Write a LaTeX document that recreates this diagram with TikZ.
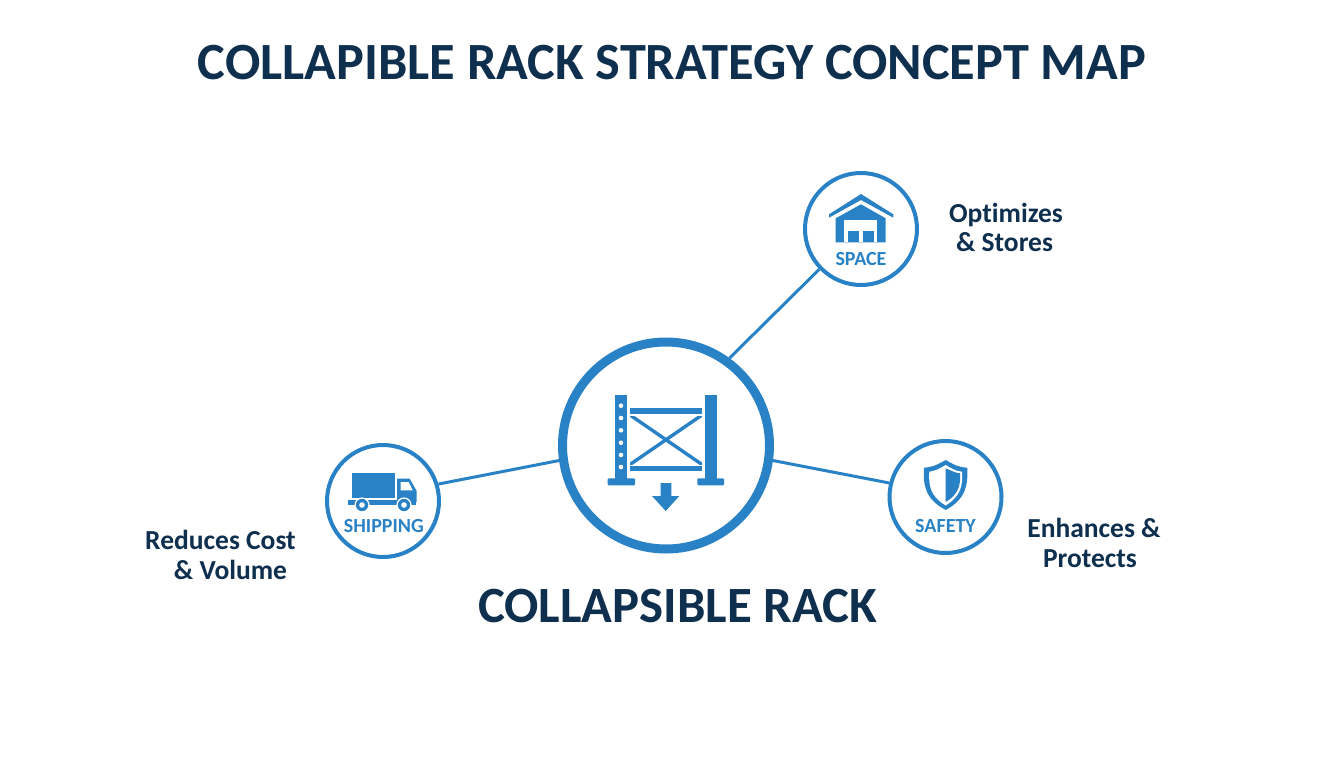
\documentclass[tikz,border=0pt]{standalone}
\usepackage{fontspec}
\setmainfont{Carlito}[Ligatures=NoCommon]
\definecolor{navy}{HTML}{0F2F4F}
\definecolor{rackblue}{HTML}{2A82C6}
\tikzset{
  ring/.style={circle,draw=rackblue,fill=white,inner sep=0pt,line width=4pt,minimum size=#1},
  link/.style={draw=rackblue,line width=3pt},
  ttl/.style={anchor=base,inner sep=0pt,text=navy,font=\fontsize{52.3}{58}\selectfont\bfseries},
  hubttl/.style={anchor=base,inner sep=0pt,text=navy,font=\fontsize{50.8}{58}\selectfont\bfseries},
  lbl/.style={anchor=base,inner sep=0pt,text=navy,font=\fontsize{27.5}{30}\selectfont\bfseries},
  tag/.style={anchor=base,inner sep=0pt,text=rackblue,font=\fontsize{20}{22}\selectfont\bfseries},
  ink/.style={fill=rackblue,draw=none},
  paper/.style={fill=white,draw=none}
}
\begin{document}
\begin{tikzpicture}[x=1pt,y=-1pt]
\useasboundingbox (0,0) rectangle (1344,768);
\fill[white] (0,0) rectangle (1344,768);
\node[ttl] (title) at (672,79) {COLLAPIBLE RACK STRATEGY CONCEPT MAP};
% circles
\node[ring=207pt,line width=9pt] (hub) at (666,445.5) {};
\node[ring=112pt] (space) at (861,229) {};
\node[ring=112pt] (ship) at (383,501) {};
\node[ring=112pt] (safe) at (945.5,497) {};
% connectors
\draw[link] (hub.54.5) -- (space.224);
\draw[link] (hub.188) -- (ship.17);
\draw[link] (hub.-8) -- (safe.166);
% rack icon
\fill[ink] (615.3,395) rectangle (627.3,479);
\fill[ink,rounded corners=1pt] (607.7,478.3) rectangle (635,485.3);
\foreach \yy in {405.7,418,430.3,442.7,455,467} \fill[paper] (621,\yy) circle (2.3);
\fill[ink] (705,395) rectangle (716.7,479);
\fill[ink,rounded corners=1pt] (697.3,478.3) rectangle (724,485.3);
\fill[ink] (630,408.3) rectangle (702,413.7);
\fill[ink] (630,465.7) rectangle (702,471.3);
\begin{scope}
\clip (630,416) rectangle (702,464);
\draw[rackblue,line width=3.4pt] (630,415) -- (702,464.5);
\draw[rackblue,line width=3.4pt] (702,415) -- (630,464.5);
\end{scope}
\fill[ink] (660.7,483) -- (671.3,483) -- (671.3,496) -- (679.3,496) -- (665.7,511) -- (652,496) -- (660.7,496) -- cycle;
% warehouse icon
\fill[ink] (861,194) -- (893.3,214.3) -- (893.3,217.7) -- (861,200) -- (829,217.7) -- (829,214.3) -- cycle;
\fill[ink] (861,204.3) -- (885.7,218.3) -- (885.7,242.3) -- (835.7,242.3) -- (835.7,218.3) -- cycle;
\fill[paper] (844,220) rectangle (877.3,242.3);
\fill[ink] (847.7,231) rectangle (859.3,242.3);
\fill[ink] (863,231) rectangle (874.3,242.3);
\node[tag] (spacetag) at (861,265.5) {SPACE};
% truck icon
\fill[ink] (351.7,472.7) rectangle (394.7,497.7);
\fill[ink] (348,499.5) rectangle (416,505);
\fill[ink] (397,478.7) -- (409.7,478.7) -- (416.7,491) -- (416.7,502) -- (397,502) -- cycle;
\fill[paper] (400.7,482) -- (408.7,482) -- (412.7,490.3) -- (400.7,490.3) -- cycle;
\foreach \xx in {362,404} {
  \fill[paper] (\xx,505) circle (7.6);
  \fill[ink] (\xx,505) circle (6.2);
  \fill[paper] (\xx,505) circle (2.8);
}
\node[tag] (shiptag) at (383.8,532.5) {SHIPPING};
% shield icon
\fill[ink] (945.7,460) .. controls (935,466) and (932,467) .. (924,467.7) .. controls (923,485) and (925,499) .. (945.7,510) .. controls (966,499) and (968,485) .. (967.3,467.7) .. controls (959,467) and (956,466) .. (945.7,460) -- cycle;
\fill[paper] (945.7,465) .. controls (938,469.5) and (935,471) .. (929.3,471.7) .. controls (928.5,485) and (930,496) .. (945.7,505.5) .. controls (961,496) and (963,485) .. (962,471.7) .. controls (956,471) and (953,469.5) .. (945.7,465) -- cycle;
\fill[ink] (945.7,468.3) .. controls (950,470) and (955,473) .. (960,473.3) .. controls (961,485) and (958,495) .. (945.7,502) -- cycle;
\node[tag] (safetag) at (945.5,532.5) {SAFETY};
% labels
\node[lbl] (opt1) at (1006,222) {Optimizes};
\node[lbl] (opt2) at (1004.5,251) {\& Stores};
\node[lbl] (red1) at (220.5,549.5) {Reduces Cost};
\node[lbl] (red2) at (230.5,579) {\& Volume};
\node[lbl] (enh1) at (1094,537) {Enhances \&};
\node[lbl] (enh2) at (1090,567) {Protects};
\node[hubttl] (hubname) at (677.5,622.5) {COLLAPSIBLE RACK};
\end{tikzpicture}
\end{document}
